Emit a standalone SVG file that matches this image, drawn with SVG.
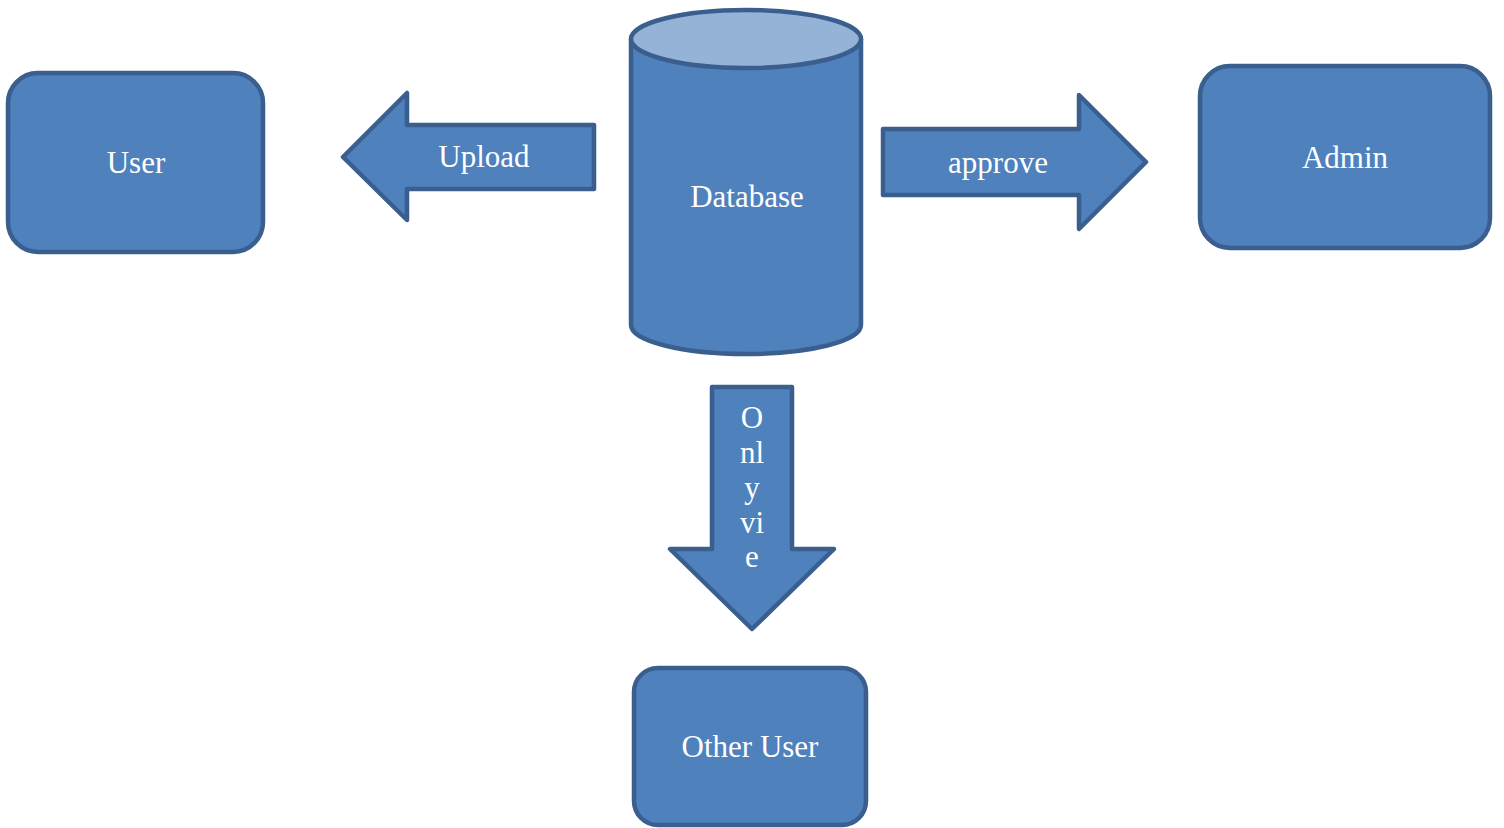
<svg xmlns="http://www.w3.org/2000/svg" width="1504" height="828" viewBox="0 0 1504 828">
<style>
.shape{fill:#4f81bd;stroke:#3a5f8f;stroke-width:4.5;stroke-linejoin:round}
.top{fill:#95b3d7;stroke:#3a5f8f;stroke-width:4.5}
.lbl{font-family:"Liberation Serif","DejaVu Serif",serif;font-size:31px;fill:#ffffff;text-anchor:middle}
</style>
<rect width="1504" height="828" fill="#ffffff"/>
<g id="user">
<rect class="shape" x="8" y="73" width="255" height="179" rx="30"/>
<text class="lbl" x="136" y="173">User</text>
</g>
<g id="admin">
<rect class="shape" x="1200" y="66" width="290" height="182" rx="30"/>
<text class="lbl" x="1345" y="168">Admin</text>
</g>
<g id="other-user">
<rect class="shape" x="634" y="668" width="232" height="157" rx="24"/>
<text class="lbl" x="750" y="757">Other User</text>
</g>
<g id="database">
<path class="shape" d="M631,39 L631,325 A115,29 0 0 0 861,325 L861,39 Z"/>
<ellipse class="top" cx="746" cy="39" rx="115" ry="29"/>
<text class="lbl" x="747" y="207">Database</text>
</g>
<g id="connectors">
<g id="upload">
<path class="shape" d="M343,157 L407,93 L407,125 L594,125 L594,189 L407,189 L407,220 Z"/>
<text class="lbl" x="484" y="167">Upload</text>
</g>
<g id="approve">
<path class="shape" d="M883,129 L1079,129 L1079,95 L1146,162 L1079,229 L1079,195 L883,195 Z"/>
<text class="lbl" x="998" y="173">approve</text>
</g>
<g id="only-view">
<path class="shape" d="M712,387 L792,387 L792,549 L834,549 L752,629 L670,549 L712,549 Z"/>
<text class="lbl" x="752" y="428">O</text>
<text class="lbl" x="752" y="463">nl</text>
<text class="lbl" x="752" y="498">y</text>
<text class="lbl" x="752" y="533">vi</text>
<text class="lbl" x="752" y="567">e</text>
</g>
</g>
</svg>
